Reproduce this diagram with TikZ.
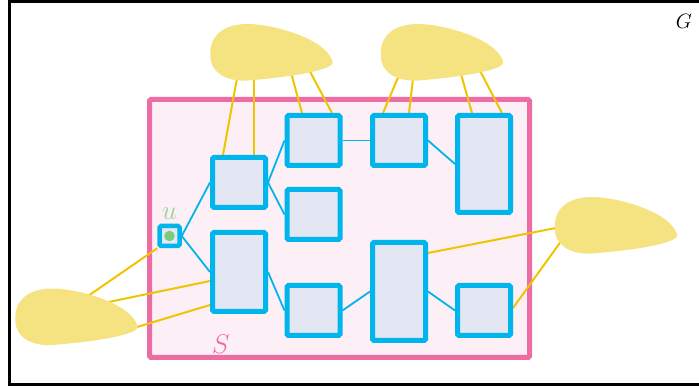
\documentclass[tikz,border=0pt]{standalone}
\usepackage{amsmath}
\usepackage{tikz}
\pgfdeclarelayer{back}
\pgfsetlayers{back,main}
\definecolor{partblue}{RGB}{0,181,236}
\definecolor{partfill}{RGB}{227,231,243}
\definecolor{setpink}{RGB}{236,108,163}
\definecolor{setfill}{RGB}{252,239,246}
\definecolor{cloudyellow}{RGB}{245,227,130}
\definecolor{tieyellow}{RGB}{240,196,0}
\definecolor{dotgreen}{RGB}{122,204,122}
\definecolor{labgreen}{RGB}{150,215,150}

\begin{document}
\begin{tikzpicture}[x=1pt,y=1pt,
  part/.style={draw=partblue,line width=5pt,fill=partfill,rounded corners=1.5pt,
    inner sep=0pt,minimum width=53pt},
  link/.style={partblue,line width=1.8pt},
  tie/.style={tieyellow,line width=2pt},
  big/.style={font=\Huge,scale=1.085,transform shape},
  cloud/.pic={\fill[cloudyellow] (-61.2,-3) .. controls (-62,18) and (-46,28) .. (-24,28)
    .. controls (0,28) and (54,14) .. (61.1,-9.5)
    .. controls (64,-18) and (20,-25) .. (-24,-28.5)
    .. controls (-48,-30) and (-62,-18) .. cycle;}]
\useasboundingbox (0,0) rectangle (699,388);
\begin{scope}
\clip (0,0) rectangle (699,388);
\draw[line width=3pt] (9,3.7) rectangle (720,386.5);
\end{scope}

% parts of S
\node[part,minimum width=20pt,minimum height=20pt,line width=4.5pt] (u) at (169.5,152) {};
\node[circle,fill=dotgreen,inner sep=0pt,minimum size=10.5pt] (udot) at (u) {};
\node[part,minimum height=50pt] (p1) at (239,205.5) {};
\node[part,minimum height=79pt] (p2) at (239,116) {};
\node[part,minimum height=50pt] (p3) at (313.5,247.5) {};
\node[part,minimum height=50pt] (p4) at (313.5,173.5) {};
\node[part,minimum height=50pt] (p5) at (313.5,77.5) {};
\node[part,minimum height=50pt] (p6) at (399,247.5) {};
\node[part,minimum height=97pt] (p7) at (484,224) {};
\node[part,minimum height=98pt] (p8) at (399,96.5) {};
\node[part,minimum height=50pt] (p9) at (484,77.5) {};

% outside clouds
\coordinate (cloudN1) at (271.5,336);
\coordinate (cloudN2) at (442,336);
\coordinate (cloudE) at (616,163);
\coordinate (cloudW) at (76.5,71.5);

\begin{pgfonlayer}{back}
\draw[setpink,fill=setfill,line width=5pt,rounded corners=1.5pt] (149.5,30.5) rectangle (529.5,288.5);

\draw[tie] ([shift={(-33,-18)}]cloudN1) -- ([xshift=-16pt]p1.north);
\draw[tie] ([shift={(-17.5,-18)}]cloudN1) -- ([xshift=15pt]p1.north);
\draw[tie] ([shift={(18,-15)}]cloudN1) -- ([xshift=-11.5pt]p3.north);
\draw[tie] ([shift={(35,-13)}]cloudN1) -- ([xshift=18.5pt]p3.north);
\draw[tie] ([shift={(-40,-16)}]cloudN2) -- ([xshift=-16pt]p6.north);
\draw[tie] ([shift={(-28,-18)}]cloudN2) -- ([xshift=10pt]p6.north);
\draw[tie] ([shift={(17,-15)}]cloudN2) -- ([xshift=-12pt]p7.north);
\draw[tie] ([shift={(35,-13)}]cloudN2) -- ([xshift=18pt]p7.north);
\draw[tie] ([shift={(-50,-1)}]cloudE) -- ([yshift=38.5pt]p8.east);
\draw[tie] ([shift={(-49,-8)}]cloudE) -- ([yshift=2.5pt]p9.east);
\draw[tie] ([shift={(5,16)}]cloudW) -- (u.south west);
\draw[tie] ([shift={(25,13)}]cloudW) -- ([yshift=-9pt]p2.west);
\draw[tie] ([shift={(49,-14)}]cloudW) -- ([yshift=-33pt]p2.west);

\pic at (cloudN1) {cloud};
\pic at (cloudN2) {cloud};
\pic at (cloudE) {cloud};
\pic at (cloudW) {cloud};

\draw[link] (u.east) -- (p1.west);
\draw[link] (u.east) -- (p2.west);
\draw[link] (p1.east) -- (p3.west);
\draw[link] (p1.east) -- (p4.west);
\draw[link] (p3.east) -- (p6.west);
\draw[link] (p6.east) -- (p7.west);
\draw[link] (p2.east) -- (p5.west);
\draw[link] (p5.east) -- (p8.west);
\draw[link] (p8.east) -- (p9.west);
\end{pgfonlayer}

\node[big,text=labgreen] (ulab) at (169.3,174) {$u$};
\node[big,text=setpink] (slab) at (220.8,43.5) {$S$};
\node[font=\huge] (glab) at (684,366.3) {$G$};
\end{tikzpicture}
\end{document}
